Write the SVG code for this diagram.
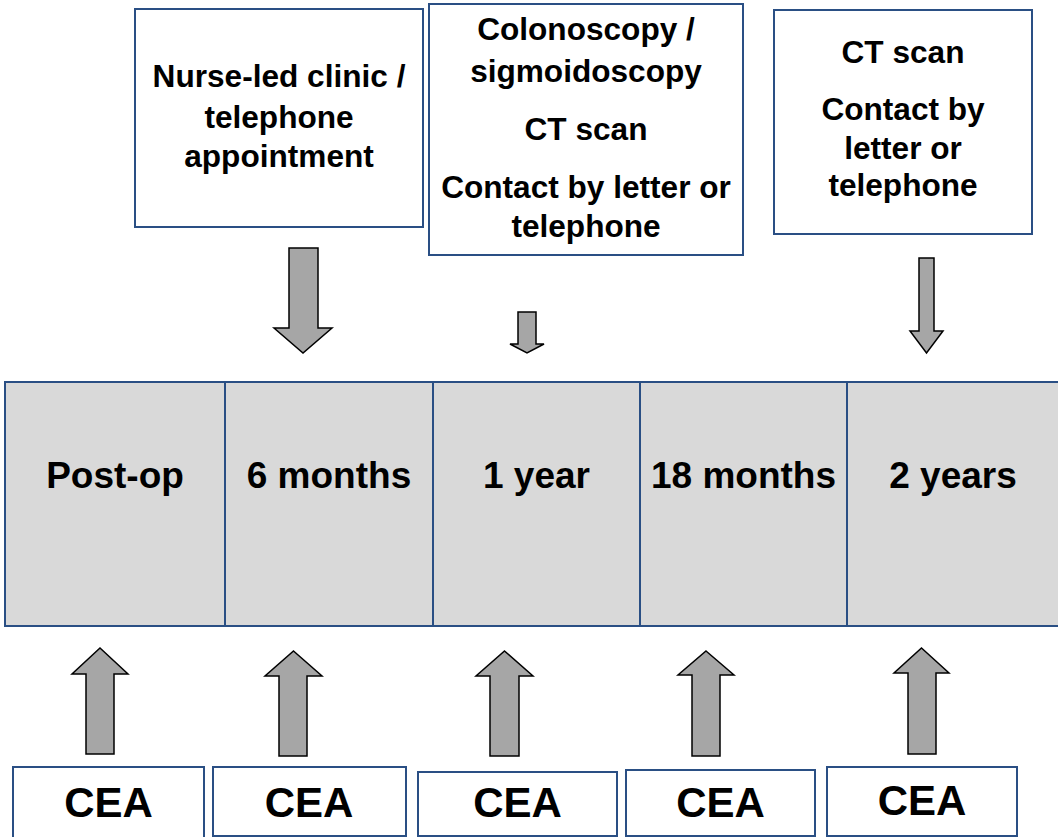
<svg xmlns="http://www.w3.org/2000/svg" width="1058" height="837" viewBox="0 0 1058 837">
<style>
.box{fill:#ffffff;stroke:#2a4f84;stroke-width:2}
.cell{fill:#d9d9d9;stroke:#2a4f84;stroke-width:2}
.arr{fill:#a6a6a6;stroke:#000000;stroke-width:1.5;stroke-linejoin:miter}
text{font-family:"Liberation Sans",Arial,sans-serif;font-weight:bold;fill:#000000;text-anchor:middle}
.t{font-size:31.6px}
.tl{font-size:37px}
.cea{font-size:42px}
</style>
<rect width="1058" height="837" fill="#ffffff"/>
<g id="box-nurse">
<rect class="box" x="135" y="9" width="288" height="218"/>
<text class="t" x="279" y="87">Nurse-led clinic /</text>
<text class="t" x="279" y="128">telephone</text>
<text class="t" x="279" y="167">appointment</text>
</g>
<g id="box-colonoscopy">
<rect class="box" x="429" y="4" width="314" height="251"/>
<text class="t" x="586" y="40">Colonoscopy /</text>
<text class="t" x="586" y="82">sigmoidoscopy</text>
<text class="t" x="586" y="140">CT scan</text>
<text class="t" x="586" y="198">Contact by letter or</text>
<text class="t" x="586" y="237">telephone</text>
</g>
<g id="box-ct">
<rect class="box" x="774" y="10" width="258" height="224"/>
<text class="t" x="903" y="63">CT scan</text>
<text class="t" x="903" y="120">Contact by</text>
<text class="t" x="903" y="159">letter or</text>
<text class="t" x="903" y="196">telephone</text>
</g>
<g id="timeline">
<g id="cell-postop"><rect class="cell" x="5" y="382" width="220" height="244"/><text class="tl" x="115" y="488">Post-op</text></g>
<g id="cell-6m"><rect class="cell" x="225" y="382" width="208" height="244"/><text class="tl" x="329" y="488">6 months</text></g>
<g id="cell-1y"><rect class="cell" x="433" y="382" width="207" height="244"/><text class="tl" x="536.5" y="488">1 year</text></g>
<g id="cell-18m"><rect class="cell" x="640" y="382" width="207" height="244"/><text class="tl" x="743.5" y="488">18 months</text></g>
<g id="cell-2y"><rect class="cell" x="847" y="382" width="215" height="244"/><text class="tl" x="953" y="488">2 years</text></g>
</g>
<g id="cea-boxes">
<g id="cea-1"><rect class="box" x="13" y="767" width="191" height="75"/><text class="cea" x="108.5" y="817">CEA</text></g>
<g id="cea-2"><rect class="box" x="213" y="767" width="193" height="69"/><text class="cea" x="309" y="817">CEA</text></g>
<g id="cea-3"><rect class="box" x="418" y="772" width="199" height="64"/><text class="cea" x="517.5" y="817">CEA</text></g>
<g id="cea-4"><rect class="box" x="626" y="770" width="189" height="66"/><text class="cea" x="720.5" y="817">CEA</text></g>
<g id="cea-5"><rect class="box" x="827" y="767" width="190" height="69"/><text class="cea" x="922" y="815">CEA</text></g>
</g>
<g id="connectors">
<polygon class="arr" points="289,248 318,248 318,328 332,328 303,353 274,328 289,328"/>
<polygon class="arr" points="518,312 536,312 536,344 544,344 527,353 510,344 518,344"/>
<polygon class="arr" points="919,258 934,258 934,331 943,331 926.5,353 910,331 919,331"/>
<polygon class="arr" points="100,648 128,674 114,674 114,754 86,754 86,674 72,674"/>
<polygon class="arr" points="293.5,651 322,676 307,676 307,756 279,756 279,676 265,676"/>
<polygon class="arr" points="504.5,651 533,676 519,676 519,756 490,756 490,676 476,676"/>
<polygon class="arr" points="706,651 734,675 720,675 720,756 692,756 692,675 678,675"/>
<polygon class="arr" points="921.5,648 949,673 936,673 936,754 908,754 908,673 894,673"/>
</g>
</svg>
